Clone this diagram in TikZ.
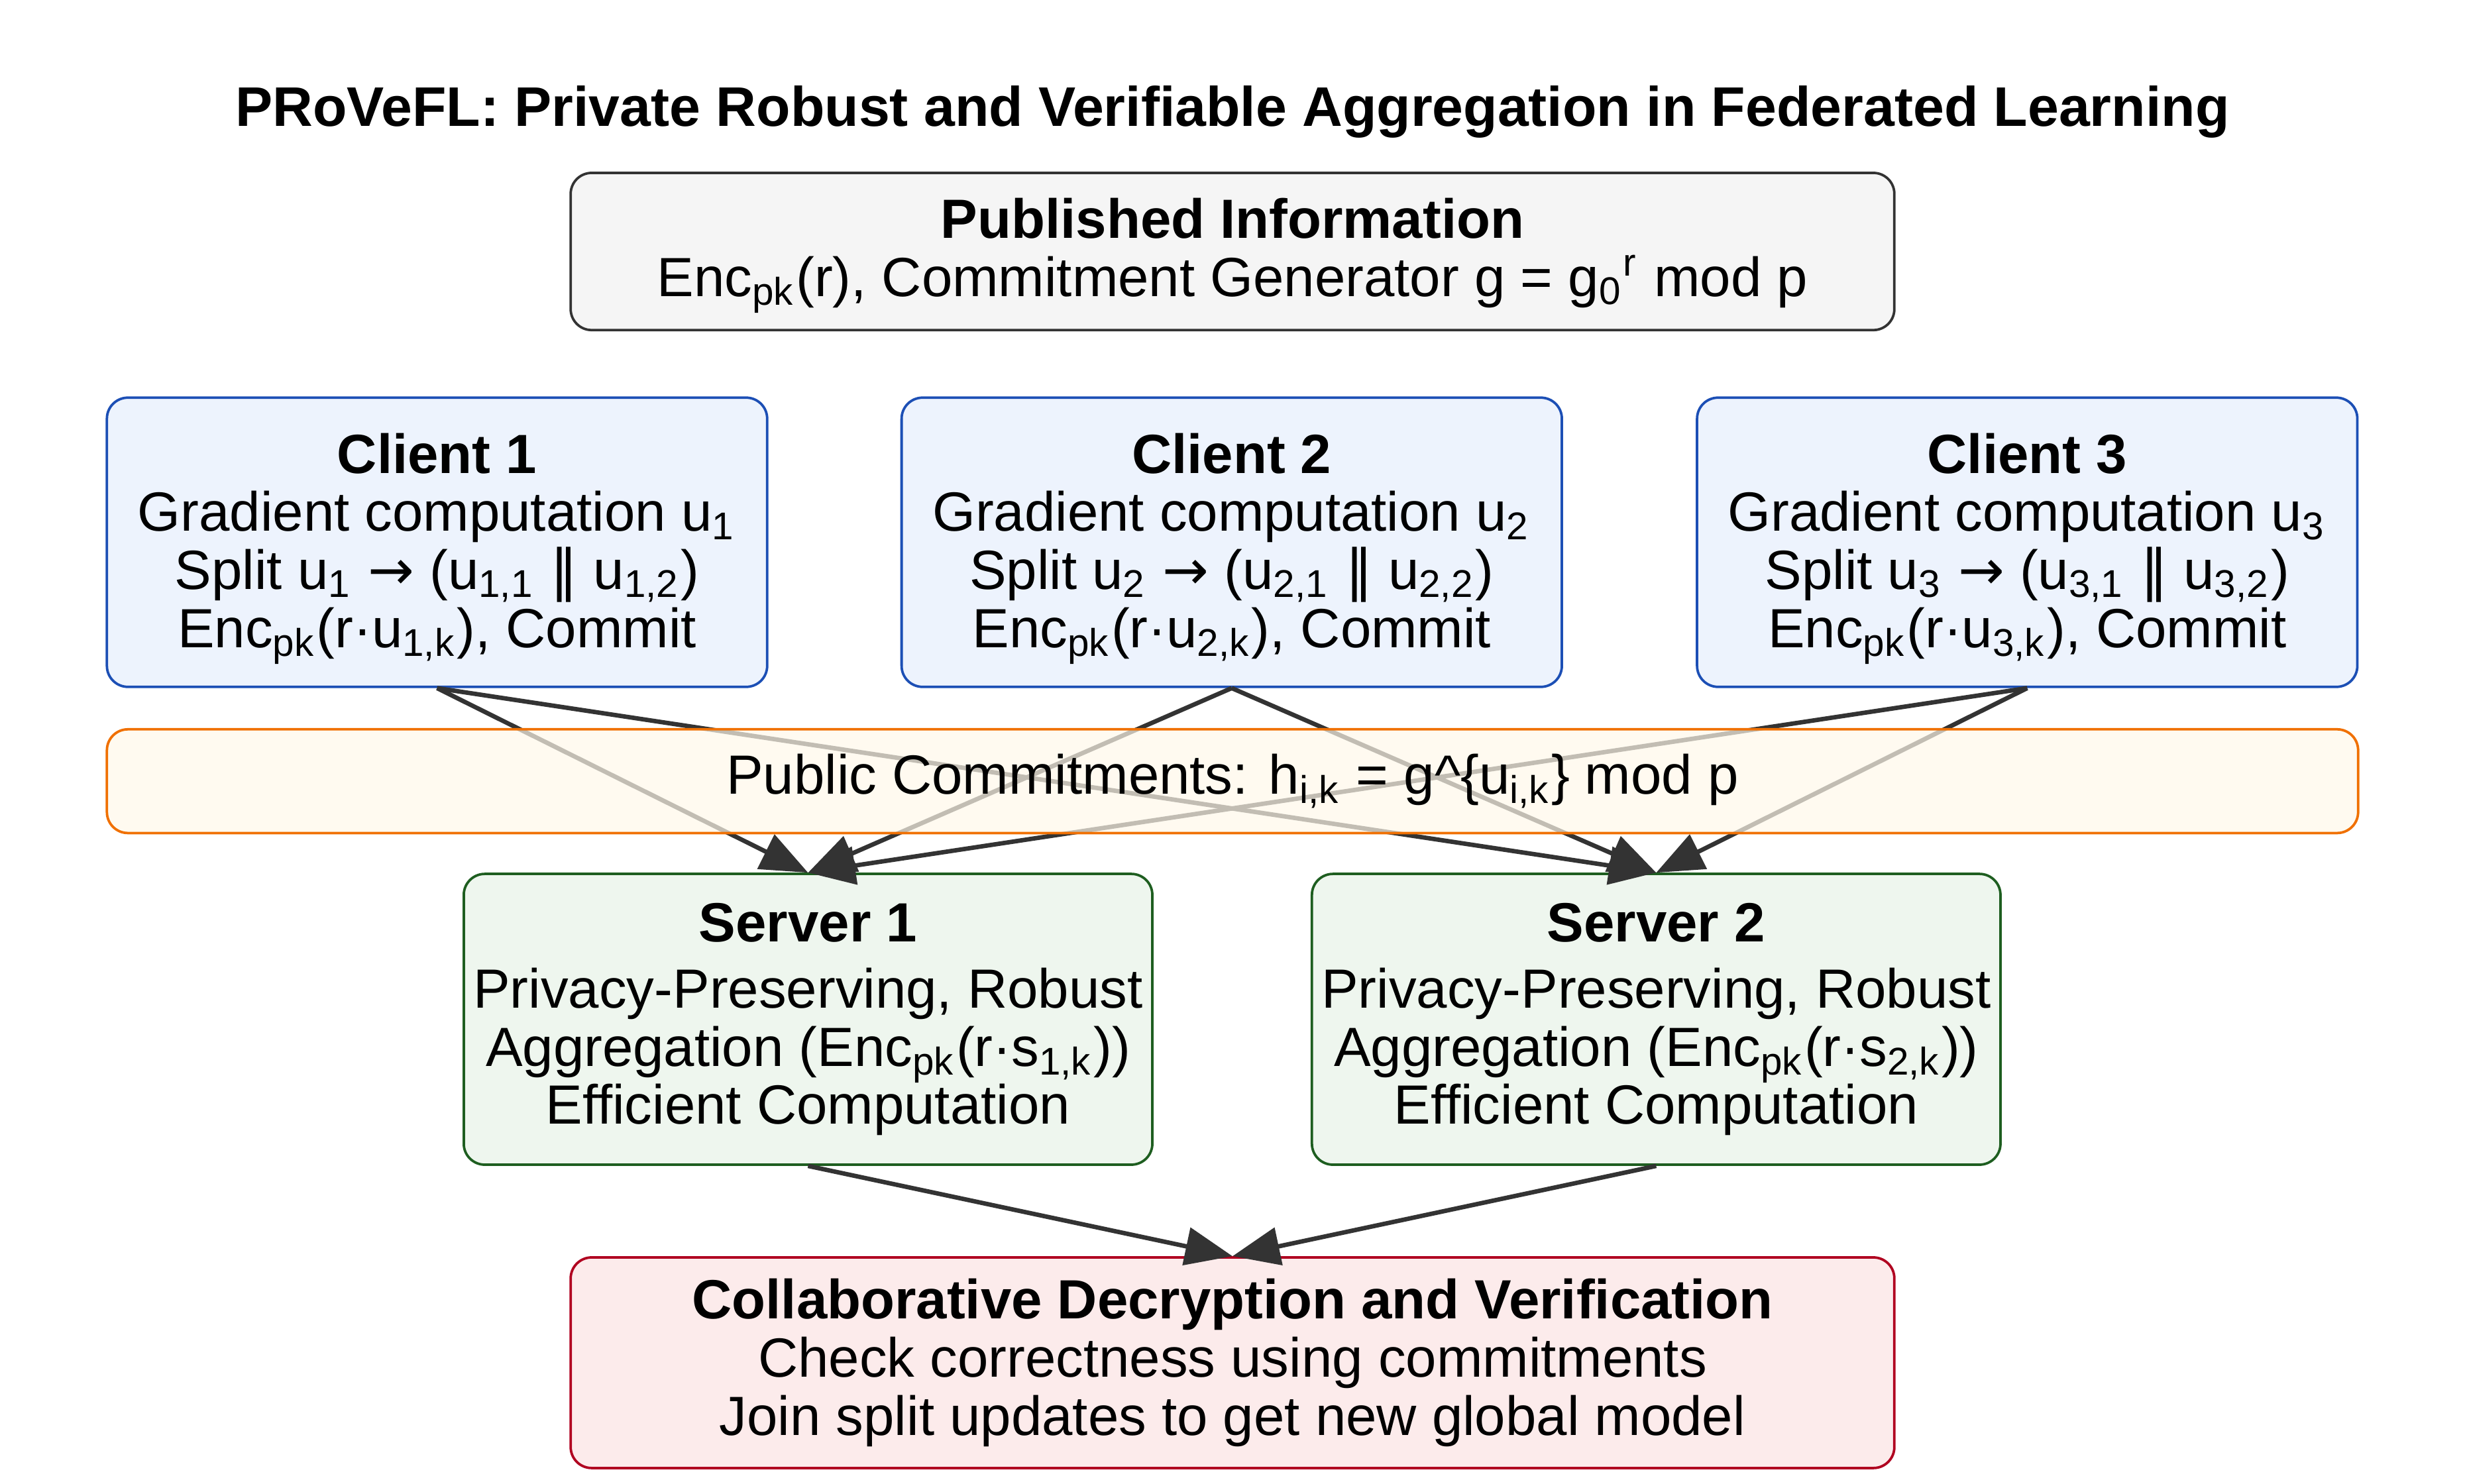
\documentclass[tikz,border=0pt]{standalone}
\usepackage{fontspec}
\setmainfont{Liberation Sans}
\newfontfamily\symfont{DejaVu Sans}
\usepackage{xcolor}
\usepackage{tikz}
\usetikzlibrary{arrows.meta, positioning}
\definecolor{pubfill}{HTML}{F5F5F5}
\definecolor{publine}{HTML}{333333}
\definecolor{clientfill}{HTML}{EDF3FD}
\definecolor{clientline}{HTML}{1C4FB5}
\definecolor{commfill}{HTML}{FFF8EA}
\definecolor{commline}{HTML}{F07000}
\definecolor{serverfill}{HTML}{EEF6EE}
\definecolor{serverline}{HTML}{1E5E20}
\definecolor{decfill}{HTML}{FCEBEB}
\definecolor{decline}{HTML}{B00020}
\definecolor{arrowline}{HTML}{333333}
\newcommand{\encpk}{Enc\textsubscript{pk}}
\newcommand{\toparrow}{{\symfont →}}

\begin{document}
\begin{tikzpicture}[
    >={Triangle[length=3mm, width=2.4mm]},
    font=\fontsize{10}{10.5}\selectfont,
    box/.style={draw, rounded corners=3.8pt, line width=0.45pt, align=center, inner sep=0pt},
    pubbox/.style={box, fill=pubfill, draw=publine, minimum width=84.2mm, minimum height=10mm},
    clientbox/.style={box, fill=clientfill, draw=clientline, minimum width=42mm, minimum height=18.4mm},
    commbox/.style={box, fill=commfill, fill opacity=0.7, text opacity=1, draw=commline, minimum width=143.2mm, minimum height=6.6mm},
    serverbox/.style={box, fill=serverfill, draw=serverline, minimum width=43.8mm, minimum height=18.5mm},
    decbox/.style={box, fill=decfill, draw=decline, minimum width=84.2mm, minimum height=13.4mm},
    flow/.style={->, draw=arrowline, fill=arrowline, line width=0.8pt}]
  \useasboundingbox (0,0) rectangle (15.68,-9.44);
  \node[font=\fontsize{10.1}{10.5}\selectfont\bfseries] (title) at (7.84,-0.71) {PRoVeFL: Private Robust and Verifiable Aggregation in Federated Learning};
  \node[pubbox] (pub) at (7.84,-1.60) {\rule{0pt}{8.8pt}\textbf{Published Information}\\\encpk(r), Commitment Generator g = g\textsubscript{0}\textsuperscript{r} mod p};
  \node[clientbox] (c1) at (2.78,-3.45) {\rule{0pt}{9.6pt}\textbf{Client 1}\\Gradient computation u\textsubscript{1}\\Split u\textsubscript{1} \toparrow{} (u\textsubscript{1,1} {\symfont ‖} u\textsubscript{1,2})\\\encpk(r·u\textsubscript{1,k}), Commit};
  \node[clientbox] (c2) at (7.835,-3.45) {\rule{0pt}{9.6pt}\textbf{Client 2}\\Gradient computation u\textsubscript{2}\\Split u\textsubscript{2} \toparrow{} (u\textsubscript{2,1} {\symfont ‖} u\textsubscript{2,2})\\\encpk(r·u\textsubscript{2,k}), Commit};
  \node[clientbox] (c3) at (12.895,-3.45) {\rule{0pt}{9.6pt}\textbf{Client 3}\\Gradient computation u\textsubscript{3}\\Split u\textsubscript{3} \toparrow{} (u\textsubscript{3,1} {\symfont ‖} u\textsubscript{3,2})\\\encpk(r·u\textsubscript{3,k}), Commit};
  \node[serverbox] (s1) at (5.14,-6.485) {\textbf{Server 1}\\[1.5pt]Privacy-Preserving, Robust\\Aggregation (\encpk(r·s\textsubscript{1,k}))\\Efficient Computation};
  \node[serverbox] (s2) at (10.535,-6.485) {\textbf{Server 2}\\[1.5pt]Privacy-Preserving, Robust\\Aggregation (\encpk(r·s\textsubscript{2,k}))\\Efficient Computation};
  \node[decbox] (dec) at (7.84,-8.67) {\textbf{Collaborative Decryption and Verification}\\Check correctness using commitments\\Join split updates to get new global model};
  % clients send to both servers
  \draw[flow] (c1.south) -- (s1.north);
  \draw[flow] (c1.south) -- (s2.north);
  \draw[flow] (c2.south) -- (s1.north);
  \draw[flow] (c2.south) -- (s2.north);
  \draw[flow] (c3.south) -- (s1.north);
  \draw[flow] (c3.south) -- (s2.north);
  \node[commbox] (comm) at (7.84,-4.97) {Public Commitments: h\textsubscript{i,k} = g\textasciicircum\{u\textsubscript{i,k}\} mod p};
  \draw[flow] (s1.south) -- (dec.north);
  \draw[flow] (s2.south) -- (dec.north);
\end{tikzpicture}
\end{document}
